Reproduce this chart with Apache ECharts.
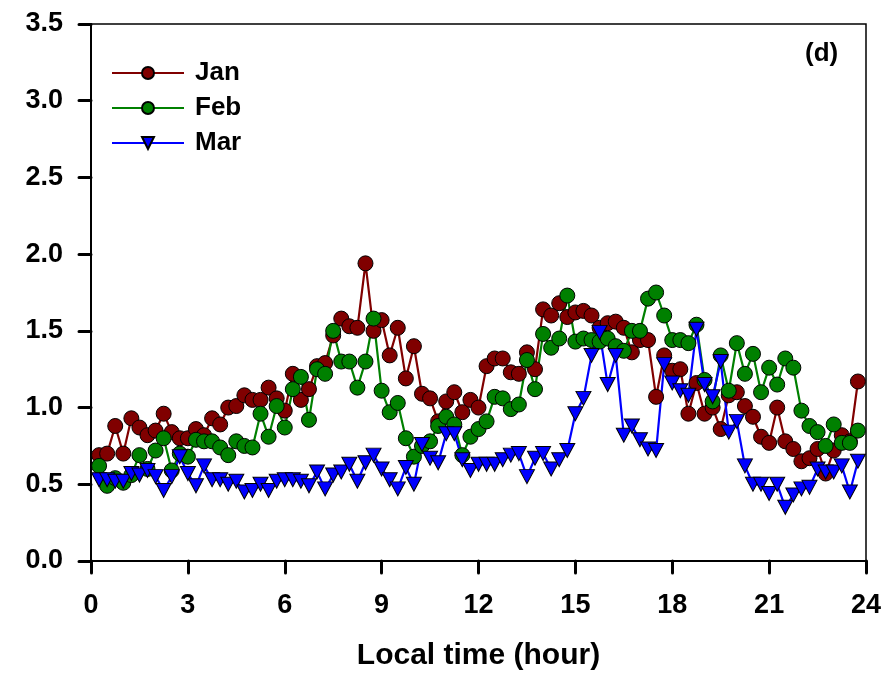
<!DOCTYPE html>
<html>
<head>
<meta charset="utf-8">
<script src="https://cdn.jsdelivr.net/npm/echarts@6/dist/echarts.min.js"></script>
<style>
  html, body { margin: 0; padding: 0; background: #fff; }
  #chart { width: 885px; height: 676px; }
</style>
</head>
<body>
<div id="chart"></div>
<script>
// Quarter-hourly means, 00:15 .. 23:45 local time
const jan = [
  0.69, 0.70, 0.88, 0.70, 0.93, 0.87, 0.82, 0.85, 0.96, 0.84,
  0.80, 0.80, 0.86, 0.82, 0.93, 0.89, 1.00, 1.01, 1.08, 1.05,
  1.05, 1.13, 1.06, 0.98, 1.22, 1.05, 1.12, 1.27, 1.29, 1.47,
  1.58, 1.53, 1.52, 1.94, 1.50, 1.57, 1.34, 1.52, 1.19, 1.40,
  1.09, 1.06, 0.91, 1.04, 1.10, 0.97, 1.05, 1.00, 1.27, 1.32,
  1.32, 1.23, 1.22, 1.36, 1.25, 1.64, 1.60, 1.68, 1.59, 1.62,
  1.63, 1.60, 1.52, 1.55, 1.56, 1.52, 1.36, 1.44, 1.44, 1.07,
  1.34, 1.24, 1.25, 0.96, 1.16, 0.96, 1.00, 0.86, 1.08, 1.10,
  1.01, 0.94, 0.81, 0.77, 1.00, 0.78, 0.73, 0.65, 0.67, 0.73,
  0.57, 0.72, 0.82, 0.78, 1.17
];
const feb = [
  0.62, 0.49, 0.54, 0.51, 0.56, 0.69, 0.60, 0.72, 0.80, 0.59,
  0.70, 0.68, 0.79, 0.78, 0.78, 0.74, 0.69, 0.78, 0.75, 0.74,
  0.96, 0.81, 1.01, 0.87, 1.12, 1.20, 0.92, 1.25, 1.22, 1.50,
  1.30, 1.30, 1.13, 1.30, 1.58, 1.11, 0.97, 1.03, 0.80, 0.68,
  0.75, 0.78, 0.88, 0.94, 0.89, 0.69, 0.81, 0.86, 0.91, 1.07,
  1.06, 0.99, 1.02, 1.31, 1.12, 1.48, 1.39, 1.45, 1.73, 1.43,
  1.45, 1.44, 1.43, 1.45, 1.40, 1.37, 1.50, 1.50, 1.71, 1.75,
  1.60, 1.44, 1.44, 1.42, 1.54, 1.18, 1.04, 1.34, 1.11, 1.42,
  1.22, 1.35, 1.10, 1.26, 1.15, 1.32, 1.26, 0.98, 0.88, 0.84,
  0.75, 0.89, 0.77, 0.77, 0.85
];
const mar = [
  0.53, 0.53, 0.52, 0.52, 0.57, 0.56, 0.59, 0.55, 0.46, 0.55,
  0.68, 0.57, 0.49, 0.62, 0.53, 0.53, 0.50, 0.52, 0.45, 0.46,
  0.50, 0.46, 0.52, 0.53, 0.53, 0.52, 0.49, 0.58, 0.47, 0.56,
  0.58, 0.63, 0.52, 0.64, 0.69, 0.60, 0.53, 0.47, 0.61, 0.50,
  0.76, 0.67, 0.64, 0.83, 0.83, 0.66, 0.59, 0.63, 0.63, 0.63,
  0.66, 0.69, 0.70, 0.55, 0.67, 0.70, 0.60, 0.66, 0.72, 0.96,
  1.06, 1.34, 1.49, 1.15, 1.34, 0.82, 0.88, 0.79, 0.73, 0.72,
  1.28, 1.16, 1.11, 1.08, 1.51, 1.15, 1.07, 1.30, 0.84, 0.91,
  0.62, 0.50, 0.50, 0.44, 0.50, 0.35, 0.43, 0.47, 0.48, 0.60,
  0.58, 0.58, 0.62, 0.45, 0.65
];
const monthNames = ['Jan', 'Feb', 'Mar'];
const panelTag = '(d)';
const xTitle = 'Local time (hour)';

// sample times in hours (15-minute step)
const times = jan.map((_, k) => (k + 1) * 0.25);
const pairs = arr => arr.map((v, k) => [times[k], v]);

const FONT = '"Liberation Sans", Arial, sans-serif';

function lineSeries(name, values, color, symbol, extra) {
  return Object.assign({
    name: name,
    type: 'line',
    data: pairs(values),
    symbol: symbol,
    symbolSize: 15,
    showAllSymbol: true,
    lineStyle: { color: color, width: 2.2 },
    itemStyle: { color: color, borderColor: '#000', borderWidth: 1 },
    emphasis: { disabled: true },
    animation: false
  }, extra || {});
}

const chart = echarts.init(document.getElementById('chart'), null, { renderer: 'canvas' });
chart.setOption({
  backgroundColor: '#fff',
  grid: { left: 91, right: 19, top: 24, bottom: 112, show: true, borderColor: '#000', borderWidth: 1.5 },
  legend: {
    orient: 'vertical',
    left: 106,
    top: 55,
    itemWidth: 72,
    itemHeight: 15,
    itemGap: 9,
    textStyle: { fontFamily: FONT, fontWeight: 'bold', fontSize: 26, color: '#000', padding: [0, 0, 0, 6] },
    data: monthNames
  },
  graphic: [{
    type: 'text',
    left: 805,
    top: 41,
    style: { text: panelTag, font: 'bold 26px ' + FONT, fill: '#000' }
  }],
  xAxis: {
    type: 'value',
    min: 0, max: 24, interval: 3,
    name: xTitle,
    nameLocation: 'middle',
    nameGap: 80,
    nameTextStyle: { fontFamily: FONT, fontWeight: 'bold', fontSize: 30, color: '#000' },
    axisLine: { lineStyle: { color: '#000', width: 2 } },
    axisTick: { inside: false, length: 12, lineStyle: { color: '#000', width: 3, cap: 'round' } },
    axisLabel: { margin: 31, fontFamily: FONT, fontWeight: 'bold', fontSize: 27, color: '#000' },
    splitLine: { show: false }
  },
  yAxis: {
    type: 'value',
    min: 0, max: 3.5, interval: 0.5,
    axisLine: { show: true, lineStyle: { color: '#000', width: 2 } },
    axisTick: { show: true, inside: false, length: 12, lineStyle: { color: '#000', width: 3, cap: 'round' } },
    axisLabel: { margin: 28, fontFamily: FONT, fontWeight: 'bold', fontSize: 27, color: '#000',
                 formatter: v => v.toFixed(1) },
    splitLine: { show: false }
  },
  series: [
    lineSeries(monthNames[0], jan, '#800000', 'circle'),
    lineSeries(monthNames[1], feb, '#008000', 'circle'),
    lineSeries(monthNames[2], mar, '#0000FF', 'triangle', { symbolRotate: 180, symbolSize: [15, 14] })
  ]
});
</script>
</body>
</html>
